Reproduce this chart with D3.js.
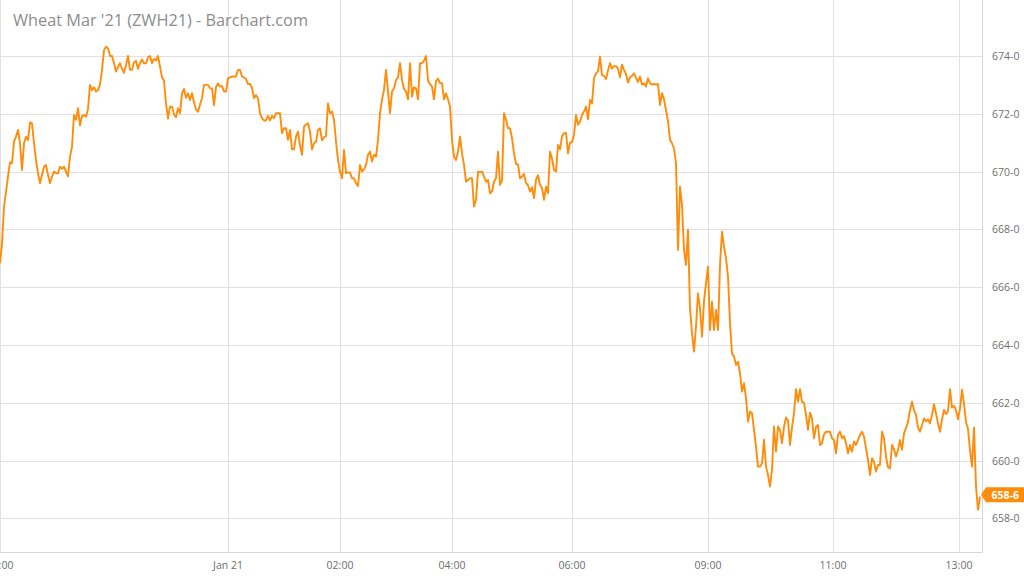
<!DOCTYPE html>
<html><head><meta charset="utf-8">
<script src="https://cdn.jsdelivr.net/npm/d3@7"></script>
<style>html,body{margin:0;padding:0;background:#fff;overflow:hidden}svg{display:block}</style>
</head><body>
<svg id="chart" width="1024" height="576"></svg>
<script>
const title = "Wheat Mar '21 (ZWH21) - Barchart.com";
const prices = [
666.83,667.5,668.79,669.3,669.83,670.32,670.29,671.04,671.21,671.44,
670.98,670.06,670.98,671.21,671.09,671.7,671.67,670.98,670.4,669.94,
669.6,669.88,670.17,670.23,669.88,669.6,669.83,670.0,669.94,669.94,
670.17,670.1,670.17,670.0,669.83,670.52,670.86,671.96,671.79,672.19,
671.6,671.92,671.96,671.9,672.17,673.0,672.82,672.92,672.77,672.82,
673.02,673.52,674.2,674.32,674.27,674.0,674.0,673.75,673.46,673.63,
673.75,673.56,673.42,673.69,674.0,673.52,673.52,673.78,673.84,673.56,
673.75,673.88,673.75,673.75,673.95,674.0,673.75,673.9,673.84,674.0,
673.63,673.26,673.15,672.36,671.83,672.25,672.25,671.98,671.88,672.19,
672.02,672.71,672.86,672.55,672.71,672.48,672.71,672.39,672.15,672.07,
672.32,672.54,673.0,673.0,673.0,672.88,672.88,672.3,672.92,673.05,
672.94,672.96,672.77,672.77,673.23,673.26,673.29,673.29,673.29,673.52,
673.52,673.29,673.26,673.2,673.03,673.03,672.9,672.54,672.65,672.54,
672.02,671.85,671.77,671.77,671.93,671.77,671.93,671.85,672.02,672.02,
672.02,671.33,671.5,671.5,671.1,671.44,670.77,670.77,671.21,671.38,
670.92,670.58,671.56,671.62,671.67,671.38,670.77,670.98,671.03,671.44,
671.5,671.08,671.19,671.23,672.36,672.02,672.08,671.79,671.05,670.4,
670.0,669.77,670.75,669.95,669.97,669.97,669.77,669.77,669.6,669.5,
670.23,670.0,670.08,670.23,670.58,670.69,670.35,670.58,670.52,671.1,
672.02,672.48,672.83,673.52,672.77,672.02,672.77,672.88,673.17,673.26,
673.75,673.17,672.86,672.77,672.5,673.75,672.6,672.92,672.88,672.5,
673.75,673.75,673.84,674.0,673.15,673.03,672.94,672.5,673.13,673.22,
673.06,673.06,672.5,672.71,672.5,672.25,671.1,670.52,670.4,670.69,
671.21,670.63,670.23,669.65,669.71,669.77,669.77,668.79,669.02,670.0,
669.97,670.0,669.83,669.65,669.71,669.25,669.31,669.65,669.77,670.69,
669.54,669.69,672.02,671.8,671.5,671.5,671.16,670.63,670.27,670.24,
669.77,669.82,669.92,669.6,669.53,669.31,669.46,669.08,669.71,669.88,
669.54,669.44,669.02,669.48,669.25,670.69,670.46,670.06,670.0,670.92,
670.77,671.23,671.33,671.34,670.63,671.0,671.02,671.27,671.96,671.62,
671.73,671.96,672.08,672.25,671.81,672.48,672.36,673.23,673.4,673.47,
673.98,673.33,673.32,673.2,673.5,673.75,673.56,673.65,673.65,673.56,
673.26,673.7,673.52,673.38,673.08,673.26,673.31,673.4,673.24,673.1,
673.29,673.01,673.06,672.94,673.23,673.06,673.01,673.03,673.01,673.03,
672.31,672.71,672.5,672.13,671.74,671.1,670.98,670.8,670.29,667.29,
669.48,668.84,667.29,666.77,667.98,665.27,664.4,663.77,664.64,665.79,
665.27,664.29,665.52,666.14,666.71,664.52,665.5,664.52,665.21,664.52,
666.77,667.92,667.4,667.0,666.37,664.75,663.71,663.6,663.31,663.42,
663.02,662.39,662.68,662.16,661.35,661.7,661.64,661.06,660.48,659.79,
659.79,659.9,660.72,659.79,659.5,659.1,659.68,661.18,660.31,661.18,
661.06,660.6,661.17,661.49,661.39,660.54,661.14,661.64,662.47,662.04,
662.47,662.04,662.0,661.58,661.06,661.66,661.46,660.77,661.17,661.23,
660.54,660.6,660.91,661.0,661.0,661.0,660.77,660.71,660.25,660.89,
661.0,660.77,660.85,660.6,660.25,660.54,660.31,660.66,660.54,660.71,
660.89,661.0,660.83,660.43,660.02,659.5,660.08,659.96,659.62,659.85,
659.85,661.0,660.77,660.14,659.77,659.73,660.54,660.39,660.14,660.37,
660.71,660.37,660.94,661.13,661.34,661.75,662.04,661.75,661.58,661.15,
661.0,661.23,661.46,661.36,661.43,661.29,661.58,661.95,661.64,661.28,
661.0,661.43,661.75,661.61,661.7,662.47,661.84,661.89,661.75,661.43,
661.8,662.45,661.98,661.33,661.1,660.35,659.79,661.15,659.1,658.3,
658.75
];
const xTickIndex = [0, 114, 170, 226, 286, 354, 416.5, 479.5];
const xTickLabels = ["20:00", "Jan 21", "02:00", "04:00", "06:00", "09:00", "11:00", "13:00"];
const yTickValues = [658, 660, 662, 664, 666, 668, 670, 672, 674];
const lastPrice = 658.75;

const svg = d3.select("#chart");
const font = "'Open Sans', 'Noto Sans', sans-serif";
const gridColor = "#e0e0e0";
const lineColor = "#ff8c0a";

const x = d3.scaleLinear().domain([0, 491]).range([0, 982]);
const y = d3.scaleLinear().domain([658, 674]).range([518.4, 56]);
const plotRight = 982, plotBottom = 552;
const fmt = d => Math.floor(d) + "-" + Math.round((d - Math.floor(d)) * 8);

// horizontal grid
svg.append("g").selectAll("line").data(yTickValues).join("line")
  .attr("x1", 0).attr("x2", plotRight)
  .attr("y1", d => Math.round(y(d)) + 0.5).attr("y2", d => Math.round(y(d)) + 0.5)
  .attr("stroke", gridColor).attr("stroke-width", 1);

// vertical grid
svg.append("g").selectAll("line").data(xTickIndex).join("line")
  .attr("x1", d => Math.round(x(d)) + 0.5).attr("x2", d => Math.round(x(d)) + 0.5)
  .attr("y1", 0).attr("y2", plotBottom)
  .attr("stroke", gridColor).attr("stroke-width", 1);

// frame: bottom and right
svg.append("line").attr("x1", 0).attr("x2", plotRight + 0.5)
  .attr("y1", plotBottom + 0.5).attr("y2", plotBottom + 0.5)
  .attr("stroke", "#d6d6d6");
svg.append("line").attr("x1", plotRight + 0.5).attr("x2", plotRight + 0.5)
  .attr("y1", 0).attr("y2", plotBottom + 0.5)
  .attr("stroke", "#d6d6d6");

// y labels
svg.append("g").selectAll("text").data(yTickValues).join("text")
  .attr("x", 992).attr("y", d => y(d))
  .attr("dominant-baseline", "central")
  .attr("font-family", font).attr("font-size", 10.5).attr("fill", "#6e6e6e")
  .text(d => fmt(d));

// x labels
svg.append("g").selectAll("text").data(xTickIndex).join("text")
  .attr("x", d => x(d)).attr("y", 568.5)
  .attr("text-anchor", "middle")
  .attr("font-family", font).attr("font-size", 10.5).attr("fill", "#6e6e6e")
  .text((d, i) => xTickLabels[i]);

// title
svg.append("text").attr("x", 13).attr("y", 26)
  .attr("font-family", font).attr("font-size", 16.3).attr("fill", "#8c8c8c")
  .text(title);

// price line
const line = d3.line().x((d, i) => x(i)).y(d => y(d));
svg.append("path").datum(prices)
  .attr("d", line).attr("fill", "none")
  .attr("stroke", lineColor).attr("stroke-width", 1.9)
  .attr("stroke-linejoin", "round");

// last price tag
const ty = y(lastPrice) - 2;
svg.append("path")
  .attr("d", `M981,${ty} L986,${ty - 7.5} L1024,${ty - 7.5} L1024,${ty + 7.5} L986,${ty + 7.5} Z`)
  .attr("fill", lineColor);
svg.append("text").attr("x", 991.5).attr("y", ty)
  .attr("dominant-baseline", "central")
  .attr("font-family", font).attr("font-size", 10.5).attr("font-weight", "bold")
  .attr("fill", "#fff").text(fmt(lastPrice));
</script>
</body></html>
